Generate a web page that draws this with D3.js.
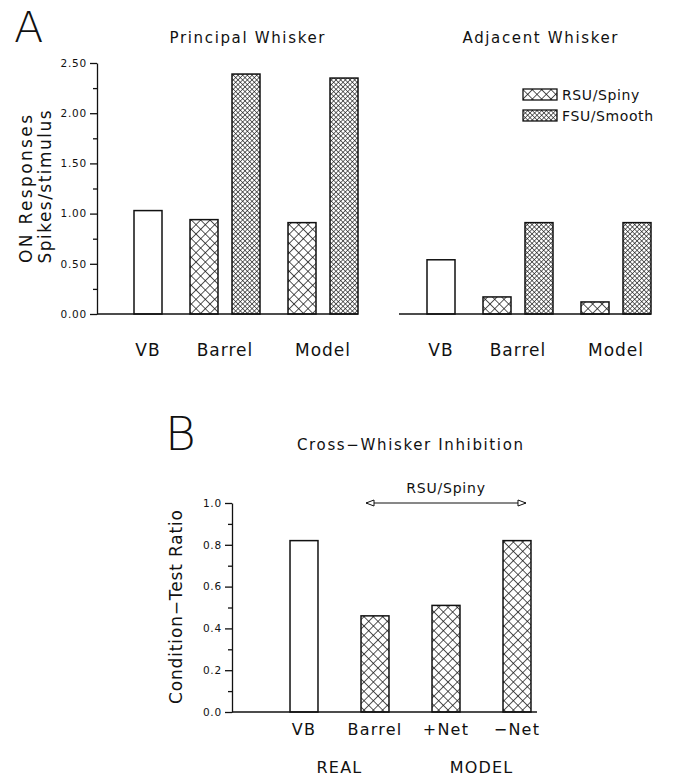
<!DOCTYPE html>
<html>
<head>
<meta charset="utf-8">
<script src="https://cdn.jsdelivr.net/npm/d3@7"></script>
<style>
  body { margin: 0; background: #fff; }
  svg { display: block; }
  text { font-family: "DejaVu Sans", "Liberation Sans", sans-serif; fill: #111; }
  .tick text { font-size: 10.5px; letter-spacing: 0.8px; }
  .tick line, .domain { stroke: #111; stroke-width: 1.3; }
</style>
</head>
<body>
<div id="chart"></div>
<script>
// panel A data: groups and the bars inside each group
var groupsA = ["VB", "Barrel", "Model"];
var kindsA = [["VB"], ["RSU", "FSU"], ["RSU", "FSU"]];
var principal = [[1.03], [0.94, 2.39], [0.91, 2.35]];
var adjacent = [[0.54], [0.17, 0.91], [0.12, 0.91]];
var ticksA = [0, 0.5, 1, 1.5, 2, 2.5];
var minorA = [0.25, 0.75, 1.25, 1.75, 2.25];

// panel B data
var catsB = ["VB", "Barrel", "+Net", "\u2212Net"];
var kindsB = ["VB", "RSU", "RSU", "RSU"];
var ratioB = [0.82, 0.46, 0.51, 0.82];
var ticksB = [0, 0.2, 0.4, 0.6, 0.8, 1.0];
var minorB = [0.1, 0.3, 0.5, 0.7, 0.9];

var legendKeys = ["RSU", "FSU"];
var legendNames = ["RSU/Spiny", "FSU/Smooth"];

var svg = d3.select("#chart").append("svg")
    .attr("width", 679)
    .attr("height", 777)
    .style("background-color", "white");

// hatch patterns
var defs = svg.append("defs");
function hatch(id, size, sw) {
    var p = defs.append("pattern")
        .attr("id", id)
        .attr("patternUnits", "userSpaceOnUse")
        .attr("width", size).attr("height", size)
        .attr("patternTransform", "rotate(45)");
    p.append("rect").attr("width", size).attr("height", size).attr("fill", "white");
    p.append("line").attr("x1", 0).attr("y1", 0).attr("x2", size).attr("y2", 0)
        .attr("stroke", "#111").attr("stroke-width", sw);
    p.append("line").attr("x1", 0).attr("y1", 0).attr("x2", 0).attr("y2", size)
        .attr("stroke", "#111").attr("stroke-width", sw);
}
hatch("coarse", 6.6, 1.4);
hatch("fine", 3.3, 1.2);

var fillFor = function(k) {
    if (k == "RSU") return "url(#coarse)";
    if (k == "FSU") return "url(#fine)";
    return "white";
};

// arrow head marker (open triangle)
defs.append("marker")
    .attr("id", "tri")
    .attr("viewBox", "0 0 10 8")
    .attr("refX", 9).attr("refY", 4)
    .attr("markerWidth", 10).attr("markerHeight", 8)
    .attr("markerUnits", "userSpaceOnUse")
    .attr("orient", "auto-start-reverse")
    .append("path")
    .attr("d", "M1,1 L9,4 L1,7 Z")
    .attr("fill", "white").attr("stroke", "#111").attr("stroke-width", 1);

// flatten grouped bars into slot positions (gap of 1/3 slot between groups)
function flatten(values) {
    var out = [], s = 0;
    values.forEach(function(g, gi) {
        g.forEach(function(v, bi) {
            out.push({ group: groupsA[gi], kind: kindsA[gi][bi], value: v, pos: s + gi / 3, gi: gi });
            s++;
        });
    });
    return out;
}

var yA = d3.scaleLinear().domain([0, 2.5]).range([314, 63]);
var barW = 28;

function drawPanelA(values, xRange, baseStart) {
    var bars = flatten(values);
    var maxPos = d3.max(bars, function(d) { return d.pos; });
    var x = d3.scaleLinear().domain([0, maxPos]).range(xRange);
    var g = svg.append("g");

    g.selectAll("rect.bar")
        .data(bars)
        .enter()
        .append("rect")
        .attr("class", "bar")
        .attr("x", function(d) { return x(d.pos) - barW / 2; })
        .attr("y", function(d) { return yA(d.value); })
        .attr("width", barW)
        .attr("height", function(d) { return yA(0) - yA(d.value); })
        .attr("fill", function(d) { return fillFor(d.kind); })
        .attr("stroke", "#111")
        .attr("stroke-width", 1.5);

    var x0 = baseStart == null ? x(0) - 42 : baseStart;
    g.append("line")
        .attr("x1", x0).attr("x2", x(maxPos) + barW / 2)
        .attr("y1", yA(0)).attr("y2", yA(0))
        .attr("stroke", "#111").attr("stroke-width", 1.6);

    groupsA.forEach(function(name, gi) {
        var inG = bars.filter(function(d) { return d.gi == gi; });
        var cx = d3.mean(inG, function(d) { return x(d.pos); });
        g.append("text")
            .attr("x", cx).attr("y", 356)
            .attr("text-anchor", "middle")
            .style("font-size", "17px")
            .style("letter-spacing", "1px")
            .text(name);
    });
}

drawPanelA(principal, [148, 344], 97);
drawPanelA(adjacent, [441, 637], null);

// y axis panel A
svg.append("g")
    .attr("transform", "translate(97,0)")
    .call(d3.axisLeft(yA).tickValues(ticksA).tickFormat(d3.format(".2f")).tickSize(7).tickSizeOuter(0).tickPadding(3));
svg.append("g")
    .attr("transform", "translate(97,0)")
    .call(d3.axisLeft(yA).tickValues(minorA).tickFormat("").tickSize(4).tickSizeOuter(0))
    .select(".domain").remove();

// titles A
svg.append("text").attr("x", 14).attr("y", 42)
    .style("font-size", "43px").style("font-weight", 100).text("A");
svg.append("text").attr("x", 247).attr("y", 43).attr("text-anchor", "middle")
    .attr("textLength", 155).attr("lengthAdjust", "spacing")
    .style("font-size", "15px").text("Principal Whisker");
svg.append("text").attr("x", 540).attr("y", 43).attr("text-anchor", "middle")
    .attr("textLength", 155).attr("lengthAdjust", "spacing")
    .style("font-size", "15px").text("Adjacent Whisker");

svg.append("text")
    .attr("transform", "translate(32,189) rotate(-90)")
    .attr("text-anchor", "middle")
    .attr("textLength", 148).attr("lengthAdjust", "spacing")
    .style("font-size", "17px").text("ON Responses");
svg.append("text")
    .attr("transform", "translate(51,187) rotate(-90)")
    .attr("text-anchor", "middle")
    .attr("textLength", 153).attr("lengthAdjust", "spacing")
    .style("font-size", "17px").text("Spikes/stimulus");

// legend
var leg = svg.append("g").selectAll("g")
    .data(legendKeys)
    .enter()
    .append("g")
    .attr("transform", function(d, i) { return "translate(523," + (89 + i * 21) + ")"; });
leg.append("rect")
    .attr("width", 34).attr("height", 11)
    .attr("fill", function(d) { return fillFor(d); })
    .attr("stroke", "#111").attr("stroke-width", 1.3);
leg.append("text")
    .attr("x", 39).attr("y", 10.5)
    .style("font-size", "14px")
    .style("letter-spacing", "0.6px")
    .text(function(d, i) { return legendNames[i]; });

// ---------- panel B ----------
var xB = d3.scaleBand().domain(catsB).range([268.5, 552.5]).paddingInner(0.606).paddingOuter(0.303);
var yB = d3.scaleLinear().domain([0, 1]).range([712, 503]);

svg.append("g").selectAll("rect")
    .data(catsB)
    .enter()
    .append("rect")
    .attr("x", function(d) { return xB(d); })
    .attr("y", function(d, i) { return yB(ratioB[i]); })
    .attr("width", xB.bandwidth())
    .attr("height", function(d, i) { return yB(0) - yB(ratioB[i]); })
    .attr("fill", function(d, i) { return fillFor(kindsB[i]); })
    .attr("stroke", "#111")
    .attr("stroke-width", 1.5);

svg.append("line")
    .attr("x1", 232).attr("x2", xB(catsB[3]) + xB.bandwidth() + 6)
    .attr("y1", yB(0)).attr("y2", yB(0))
    .attr("stroke", "#111").attr("stroke-width", 1.6);

svg.append("g")
    .attr("transform", "translate(232,0)")
    .call(d3.axisLeft(yB).tickValues(ticksB).tickFormat(d3.format(".1f")).tickSize(7).tickSizeOuter(0).tickPadding(3));
svg.append("g")
    .attr("transform", "translate(232,0)")
    .call(d3.axisLeft(yB).tickValues(minorB).tickFormat("").tickSize(4).tickSizeOuter(0))
    .select(".domain").remove();

svg.append("g").selectAll("text")
    .data(catsB)
    .enter()
    .append("text")
    .attr("x", function(d) { return xB(d) + xB.bandwidth() / 2; })
    .attr("y", 735)
    .attr("text-anchor", "middle")
    .style("font-size", "16px")
    .style("letter-spacing", "1.2px")
    .text(function(d) { return d; });

// REAL / MODEL group labels
var groupB = [["REAL", 0, 1], ["MODEL", 2, 3]];
svg.append("g").selectAll("text")
    .data(groupB)
    .enter()
    .append("text")
    .attr("x", function(d) {
        return (xB(catsB[d[1]]) + xB(catsB[d[2]]) + xB.bandwidth()) / 2;
    })
    .attr("y", 773)
    .attr("text-anchor", "middle")
    .style("font-size", "16px")
    .style("letter-spacing", "1.2px")
    .text(function(d) { return d[0]; });

// RSU/Spiny arrow
var ax1 = xB(catsB[1]) + 5, ax2 = xB(catsB[3]) + xB.bandwidth() - 5;
svg.append("line")
    .attr("x1", ax1).attr("x2", ax2)
    .attr("y1", yB(1)).attr("y2", yB(1))
    .attr("stroke", "#111").attr("stroke-width", 1)
    .attr("marker-start", "url(#tri)")
    .attr("marker-end", "url(#tri)");
svg.append("text")
    .attr("x", (ax1 + ax2) / 2).attr("y", 493)
    .attr("text-anchor", "middle")
    .style("font-size", "14px")
    .style("letter-spacing", "0.8px")
    .text("RSU/Spiny");

svg.append("text").attr("x", 165).attr("y", 450)
    .style("font-size", "47px").style("font-weight", 100).text("B");
svg.append("text").attr("x", 410).attr("y", 450).attr("text-anchor", "middle")
    .attr("textLength", 226).attr("lengthAdjust", "spacing")
    .style("font-size", "15px").text("Cross\u2212Whisker Inhibition");

svg.append("text")
    .attr("transform", "translate(182,607) rotate(-90)")
    .attr("text-anchor", "middle")
    .attr("textLength", 194).attr("lengthAdjust", "spacing")
    .style("font-size", "17px").text("Condition\u2212Test Ratio");
</script>
</body>
</html>
